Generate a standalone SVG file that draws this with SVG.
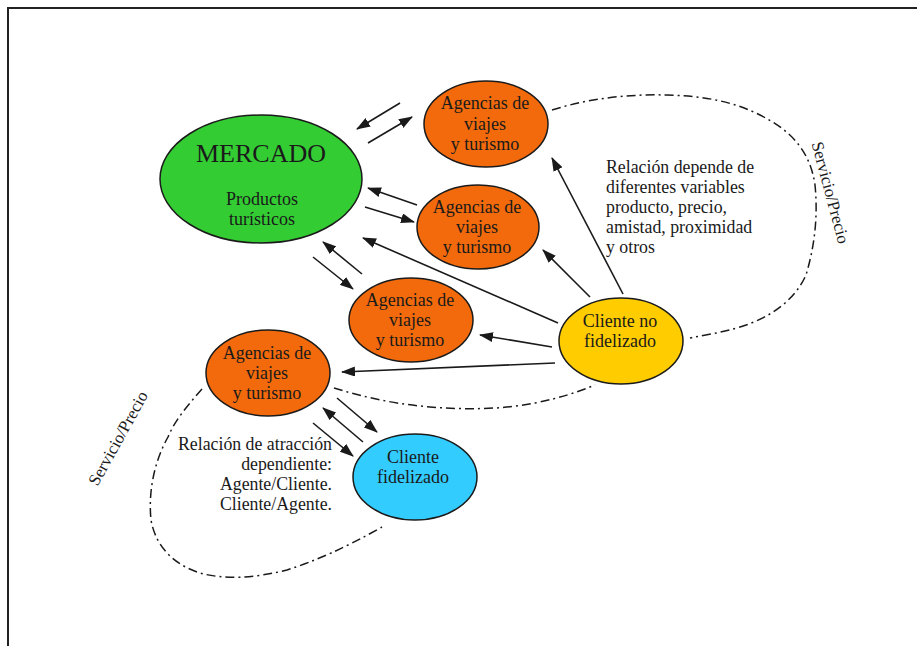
<svg xmlns="http://www.w3.org/2000/svg" width="917" height="646" viewBox="0 0 917 646">
  <style>
    .node { stroke: #1a1a1a; stroke-width: 1.5; }
    .lbl { font-family: "Liberation Serif", "Times New Roman", serif; font-size: 18px; fill: #1a1a1a; text-anchor: middle; }
    .note { font-family: "Liberation Serif", "Times New Roman", serif; font-size: 17.8px; fill: #1a1a1a; }
    .side { font-family: "Liberation Serif", "Times New Roman", serif; font-size: 17px; fill: #1a1a1a; text-anchor: middle; }
    .arrow { stroke: #1a1a1a; stroke-width: 1.6; fill: none; marker-end: url(#head); }
    .loop { stroke: #1a1a1a; stroke-width: 1.5; fill: none; stroke-dasharray: 9 4 2 4; }
    .agency { fill: #F26A0C; }
  </style>
  <defs>
    <marker id="head" viewBox="0 0 14 10" refX="13" refY="5" markerWidth="14" markerHeight="10" markerUnits="userSpaceOnUse" orient="auto">
      <path d="M0,0 L14,5 L0,10 Z" fill="#1a1a1a"/>
    </marker>
  </defs>

  <rect width="917" height="646" fill="#ffffff"/>
  <!-- frame -->
  <path d="M8,646 V8 H917" fill="none" stroke="#222" stroke-width="2"/>

  <!-- dash-dot loops and connectors -->
  <g id="connectors">
    <path class="loop" d="M552,110 C590,98 630,94 667,95 C700,96 730,100 760,115 C790,130 810,150 815,185 C818,215 815,245 806,275 C795,300 770,318 740,327 C720,333 705,335 690,338"/>
    <path class="loop" d="M334,388 C360,396 390,403 420,406 C460,410 500,410 535,403 C560,398 578,392 595,385"/>
    <path class="loop" d="M202,389 C188,405 175,420 168,437 C155,460 148,490 151,520 C156,548 175,565 200,573 C225,580 255,578 287,570 C315,561 345,548 382,527"/>

    <line class="arrow" x1="400" y1="103" x2="357" y2="129"/>
    <line class="arrow" x1="368" y1="143" x2="412" y2="117"/>
    <line class="arrow" x1="417" y1="205" x2="368" y2="188"/>
    <line class="arrow" x1="365" y1="207" x2="414" y2="222"/>
    <line class="arrow" x1="362" y1="274" x2="323" y2="242"/>
    <line class="arrow" x1="313" y1="257" x2="353" y2="289"/>
    <line class="arrow" x1="558" y1="323" x2="363" y2="238"/>
    <line class="arrow" x1="623" y1="294" x2="552" y2="158"/>
    <line class="arrow" x1="590" y1="297" x2="543" y2="250"/>
    <line class="arrow" x1="552" y1="347" x2="480" y2="335"/>
    <line class="arrow" x1="555" y1="363" x2="342" y2="372"/>
    <line class="arrow" x1="337" y1="398" x2="377" y2="432"/>
    <line class="arrow" x1="363" y1="442" x2="323" y2="408"/>
    <line class="arrow" x1="313" y1="423" x2="353" y2="456"/>
  </g>

  <g id="mercado">
    <ellipse class="node" cx="261" cy="179" rx="101" ry="64" fill="#33CC33"/>
    <text class="lbl" x="261" y="162" style="font-size:26px">MERCADO</text>
    <text class="lbl" x="262" y="205">Productos</text>
    <text class="lbl" x="262" y="225">turísticos</text>
  </g>

  <g id="agencia1">
    <ellipse class="node agency" cx="486" cy="124" rx="62" ry="43"/>
    <text class="lbl" x="485" y="109">Agencias de</text>
    <text class="lbl" x="485" y="130">viajes</text>
    <text class="lbl" x="485" y="150">y turismo</text>
  </g>

  <g id="agencia2">
    <ellipse class="node agency" cx="478" cy="227" rx="61" ry="42"/>
    <text class="lbl" x="477" y="213">Agencias de</text>
    <text class="lbl" x="477" y="233">viajes</text>
    <text class="lbl" x="477" y="253">y turismo</text>
  </g>

  <g id="agencia3">
    <ellipse class="node agency" cx="411" cy="320" rx="62" ry="42"/>
    <text class="lbl" x="410" y="306">Agencias de</text>
    <text class="lbl" x="410" y="326">viajes</text>
    <text class="lbl" x="410" y="346">y turismo</text>
  </g>

  <g id="agencia4">
    <ellipse class="node agency" cx="268" cy="373" rx="62" ry="43"/>
    <text class="lbl" x="267" y="359">Agencias de</text>
    <text class="lbl" x="267" y="379">viajes</text>
    <text class="lbl" x="267" y="399">y turismo</text>
  </g>

  <g id="cliente-no-fidelizado">
    <ellipse class="node" cx="621" cy="341" rx="62" ry="43" fill="#FFCC00"/>
    <text class="lbl" x="620" y="327">Cliente no</text>
    <text class="lbl" x="620" y="347">fidelizado</text>
  </g>

  <g id="cliente-fidelizado">
    <ellipse class="node" cx="415" cy="477" rx="62" ry="43" fill="#33CCFF"/>
    <text class="lbl" x="413" y="463">Cliente</text>
    <text class="lbl" x="413" y="483">fidelizado</text>
  </g>

  <g id="notas">
    <text class="note" x="606" y="173">Relación depende de</text>
    <text class="note" x="606" y="193">diferentes variables</text>
    <text class="note" x="606" y="213">producto, precio,</text>
    <text class="note" x="606" y="233">amistad, proximidad</text>
    <text class="note" x="606" y="253">y otros</text>

    <text class="note" x="332" y="450" text-anchor="end">Relación de atracción</text>
    <text class="note" x="332" y="470" text-anchor="end">dependiente:</text>
    <text class="note" x="332" y="490" text-anchor="end">Agente/Cliente.</text>
    <text class="note" x="332" y="510" text-anchor="end">Cliente/Agente.</text>

    <text class="side" transform="translate(825,194) rotate(75)">Servicio/Precio</text>
    <text class="side" transform="translate(123,441) rotate(-61)">Servicio/Precio</text>
  </g>
</svg>
